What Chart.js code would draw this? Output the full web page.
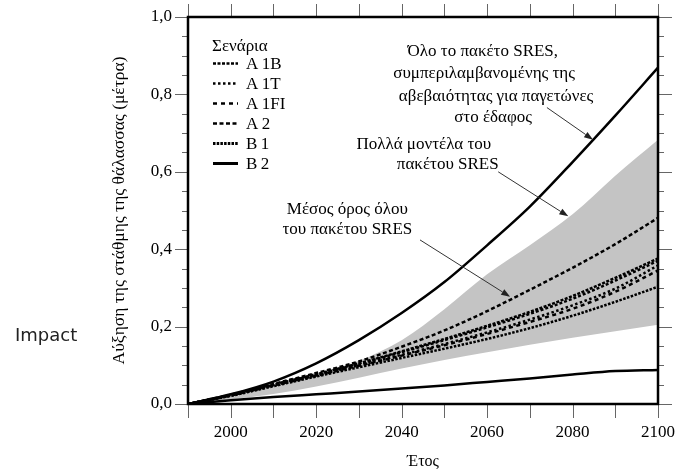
<!DOCTYPE html>
<html>
<head>
<meta charset="utf-8">
<script src="https://cdn.jsdelivr.net/npm/chart.js@4/dist/chart.umd.min.js"></script>
<style>
  html, body { margin: 0; padding: 0; background: #fff; }
  #wrap { width: 679px; height: 472px; }
</style>
</head>
<body>
<div id="wrap"><canvas id="chart" width="679" height="472"></canvas></div>
<script>
// Έτη και τιμές (μέτρα)
const years = [1990, 2000, 2010, 2020, 2030, 2040, 2050, 2060, 2070, 2080, 2090, 2100];

// Όλο το πακέτο SRES (με αβεβαιότητα παγετώνων)
const envHigh = [0, 0.025, 0.058, 0.105, 0.165, 0.235, 0.315, 0.41, 0.51, 0.625, 0.745, 0.869];
const envLow  = [0, 0.010, 0.018, 0.025, 0.032, 0.040, 0.048, 0.057, 0.066, 0.076, 0.085, 0.088];

// Πολλά μοντέλα (γκρι ζώνη)
const bandHigh = [0, 0.020, 0.045, 0.078, 0.112, 0.165, 0.245, 0.335, 0.410, 0.490, 0.590, 0.683];
const bandLow  = [0, 0.012, 0.026, 0.045, 0.068, 0.092, 0.114, 0.134, 0.153, 0.171, 0.188, 0.205];

// Σενάρια (μέσος όρος μοντέλων)
const a1b  = [0, 0.023, 0.050, 0.077, 0.105, 0.136, 0.168, 0.202, 0.238, 0.279, 0.326, 0.376];
const a1t  = [0, 0.022, 0.048, 0.074, 0.100, 0.127, 0.155, 0.185, 0.218, 0.255, 0.298, 0.358];
const a1fi = [0, 0.024, 0.052, 0.080, 0.110, 0.148, 0.190, 0.240, 0.295, 0.352, 0.413, 0.481];
const a2   = [0, 0.022, 0.048, 0.073, 0.099, 0.125, 0.152, 0.181, 0.212, 0.246, 0.290, 0.345];
const b1   = [0, 0.021, 0.046, 0.071, 0.095, 0.119, 0.143, 0.168, 0.196, 0.228, 0.264, 0.303];
const b2   = [0, 0.023, 0.050, 0.076, 0.104, 0.134, 0.165, 0.198, 0.233, 0.272, 0.319, 0.370];

const scenarioNames = ['A1B', 'A1T', 'A1FI', 'A2', 'B1', 'B2'];
const scenarioValues = [a1b, a1t, a1fi, a2, b1, b2];

const xLabelYears = [2000, 2020, 2040, 2060, 2080, 2100];
const yLabelValues = [0, 0.2, 0.4, 0.6, 0.8, 1.0];

// στυλ γραμμών
const dashPlot   = [[3, 1.5], [2.5, 2.5], [4, 2.5], [4, 3.5], [2.5, 1.5], [3, 2]];
const dashLegend = [[3, 1.5], [2.5, 2.5], [4, 4], [4, 2.5], [2.5, 1.2], []];
const widthLegend = [2.5, 2.5, 2.5, 2.5, 3, 3];

const serif = '"Liberation Serif", "Times New Roman", serif';

function pts(vals) {
  return years.map((y, i) => ({ x: y, y: vals[i] }));
}

// order: μεγαλύτερο = σχεδιάζεται πρώτο (από κάτω)
const datasets = [
  { data: pts(bandLow), borderWidth: 0, pointRadius: 0, fill: false, order: 10 },
  { data: pts(bandHigh), borderWidth: 0, pointRadius: 0, fill: '-1', backgroundColor: '#c4c4c4', order: 9 },
  { data: pts(envHigh), borderColor: '#000', borderWidth: 2.5, pointRadius: 0, fill: false, order: 1 },
  { data: pts(envLow), borderColor: '#000', borderWidth: 2.5, pointRadius: 0, fill: false, order: 1 },
];
scenarioNames.forEach((name, i) => {
  datasets.push({
    label: name,
    data: pts(scenarioValues[i]),
    borderColor: '#000',
    borderWidth: 2.5,
    borderDash: dashPlot[i],
    pointRadius: 0,
    fill: false,
    order: 2
  });
});

// σημειώσεις (σε συντεταγμένες δεδομένων)
const notes = [
  { lines: ['Όλο το πακέτο SRES,', 'συμπεριλαμβανομένης της', 'αβεβαιότητας για παγετώνες', 'στο έδαφος'],
    xs: [2059.0, 2059.3, 2062.1, 2061.4], ys: [0.910, 0.853, 0.795, 0.739],
    arrow: [2074.0, 0.766, 2084.8, 0.683] },
  { lines: ['Πολλά μοντέλα του', 'πακέτου SRES'],
    xs: [2045.2, 2050.8], ys: [0.671, 0.619],
    arrow: [2062.6, 0.600, 2079.0, 0.485] },
  { lines: ['Μέσος όρος όλου', 'του πακέτου SRES'],
    xs: [2027.3, 2027.3], ys: [0.502, 0.452],
    arrow: [2044.3, 0.424, 2065.4, 0.277] }
];

function arrow(ctx, x1, y1, x2, y2) {
  const a = Math.atan2(y2 - y1, x2 - x1);
  const hl = 9, hw = 3.2;
  ctx.beginPath();
  ctx.moveTo(x1, y1);
  ctx.lineTo(x2 - hl * Math.cos(a), y2 - hl * Math.sin(a));
  ctx.stroke();
  ctx.beginPath();
  ctx.moveTo(x2, y2);
  ctx.lineTo(x2 - hl * Math.cos(a) + hw * Math.sin(a), y2 - hl * Math.sin(a) - hw * Math.cos(a));
  ctx.lineTo(x2 - hl * Math.cos(a) - hw * Math.sin(a), y2 - hl * Math.sin(a) + hw * Math.cos(a));
  ctx.closePath();
  ctx.fill();
}

const extras = {
  id: 'extras',
  afterDraw(chart) {
    const ctx = chart.ctx;
    const ca = chart.chartArea;
    const xs = chart.scales.x, ys = chart.scales.y;
    ctx.save();

    // ticks
    ctx.strokeStyle = '#666';
    ctx.lineWidth = 1;
    ctx.beginPath();
    ys.ticks.forEach(t => {
      const y = Math.round(ys.getPixelForValue(t.value)) + 0.5;
      const major = Math.round(t.value * 100) % 20 === 0;
      const len = major ? 13 : 6;
      ctx.moveTo(ca.left - len, y); ctx.lineTo(ca.left, y);
      ctx.moveTo(ca.right, y); ctx.lineTo(ca.right + len + (major ? 1 : 0), y);
    });
    xs.ticks.forEach(t => {
      const x = Math.round(xs.getPixelForValue(t.value)) + 0.5;
      ctx.moveTo(x, ca.bottom); ctx.lineTo(x, ca.bottom + 14);
      ctx.moveTo(x, ca.top); ctx.lineTo(x, ca.top - 13);
    });
    ctx.stroke();

    // πλαίσιο
    ctx.strokeStyle = '#000';
    ctx.lineWidth = 2.5;
    ctx.strokeRect(ca.left, ca.top, ca.right - ca.left, ca.bottom - ca.top);

    // υπόμνημα
    ctx.fillStyle = '#000';
    ctx.font = '17px ' + serif;
    ctx.textBaseline = 'middle';
    ctx.textAlign = 'left';
    const lx = ca.left + 25;
    ctx.fillText('Σενάρια', lx - 1, ca.top + 30);
    scenarioNames.forEach((name, i) => {
      const y = ca.top + 46.5 + i * 20;
      ctx.lineWidth = widthLegend[i];
      ctx.setLineDash(dashLegend[i]);
      ctx.beginPath();
      ctx.moveTo(lx, y); ctx.lineTo(lx + 25, y);
      ctx.stroke();
      ctx.setLineDash([]);
      ctx.fillText(name.replace(/^([AB])/, '$1\u2009'), lx + 33, y + 1);
    });

    // σημειώσεις
    ctx.textAlign = 'center';
    ctx.font = '17px ' + serif;
    notes.forEach(n => {
      n.lines.forEach((line, i) => {
        ctx.fillText(line, xs.getPixelForValue(n.xs[i]), ys.getPixelForValue(n.ys[i]));
      });
      ctx.strokeStyle = '#333';
      ctx.fillStyle = '#222';
      ctx.lineWidth = 1;
      const [x1, y1, x2, y2] = n.arrow;
      arrow(ctx, xs.getPixelForValue(x1), ys.getPixelForValue(y1), xs.getPixelForValue(x2), ys.getPixelForValue(y2));
      ctx.fillStyle = '#000';
    });

    // Impact
    ctx.textAlign = 'left';
    ctx.font = '18px "DejaVu Sans", Verdana, sans-serif';
    ctx.fillStyle = '#222';
    ctx.fillText('Impact', 15, 336);
    ctx.restore();
  }
};

new Chart(document.getElementById('chart'), {
  type: 'line',
  data: { datasets },
  plugins: [extras],
  options: {
    responsive: false,
    animation: false,
    devicePixelRatio: 1,
    events: [],
    layout: { padding: { left: 0, right: 21, top: 17, bottom: 0 } },
    elements: { line: { tension: 0.4, cubicInterpolationMode: 'monotone' } },
    plugins: { legend: { display: false }, tooltip: { enabled: false } },
    scales: {
      x: {
        type: 'linear',
        min: 1990,
        max: 2100,
        afterFit: s => { s.height = 68; },
        grid: { display: false, drawTicks: true, tickLength: 14 },
        border: { display: false },
        ticks: {
          stepSize: 10,
          autoSkip: false,
          maxRotation: 0,
          padding: 4,
          color: '#000',
          font: { family: serif, size: 17 },
          callback: v => xLabelYears.includes(v) ? String(v) : ''
        },
        title: {
          display: true,
          text: 'Έτος',
          color: '#000',
          font: { family: serif, size: 16 },
          padding: { top: 0, bottom: 1 }
        }
      },
      y: {
        type: 'linear',
        min: 0,
        max: 1,
        afterFit: s => { s.width = 188; },
        grid: { display: false, drawTicks: true, tickLength: 13 },
        border: { display: false },
        ticks: {
          stepSize: 0.05,
          autoSkip: false,
          padding: 3,
          color: '#000',
          font: { family: serif, size: 17 },
          callback: v => {
            const hit = yLabelValues.find(t => Math.abs(t - v) < 1e-6);
            return hit === undefined ? '' : hit.toFixed(1).replace('.', ',');
          }
        },
        title: {
          display: true,
          text: 'Αύξηση της στάθμης της θάλασσας (μέτρα)',
          color: '#000',
          font: { family: serif, size: 17.5 },
          padding: { top: 109, bottom: 0 }
        }
      }
    }
  }
});
</script>
</body>
</html>
